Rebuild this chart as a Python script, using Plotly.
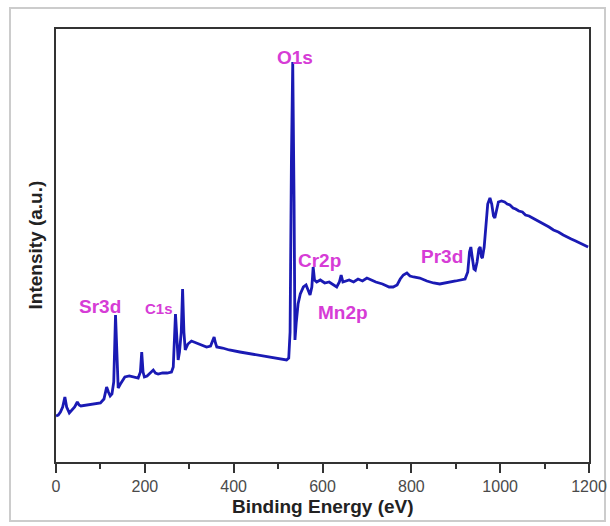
import plotly.graph_objects as go

# XPS survey spectrum: binding energy (eV) and intensity (a.u.)
energy = [0, 5, 10, 15, 20, 24, 30, 36, 42, 48, 52, 56, 70, 85, 100, 108, 114, 118, 122, 126,
          130, 134, 137, 140, 145, 150, 155, 165, 175, 185, 190, 193, 196, 199, 205, 212, 219,
          224, 230, 240, 250, 260, 264, 269, 272, 275, 278, 282, 285, 288, 291, 297, 305, 315,
          325, 339, 348, 353, 356, 359, 362, 375, 390, 414, 440, 465, 489, 505, 519, 524, 527,
          530, 533, 536, 538, 541, 545, 550, 557, 563, 568, 572, 576, 579, 582, 587, 595, 605,
          615, 625, 632, 638, 642, 646, 651, 660, 670, 680, 690, 700, 710, 720, 735, 750, 759,
          768, 775, 782, 790, 797, 805, 819, 835, 850, 864, 880, 900, 921, 927, 931, 934, 937,
          941, 944, 948, 952, 955, 958, 960, 964, 968, 972, 977, 981, 985, 988, 992, 996, 1003,
          1010, 1016, 1022, 1029, 1035, 1042, 1050, 1057, 1065, 1073, 1082, 1090, 1100, 1110,
          1120, 1131, 1142, 1150, 1160, 1170, 1180, 1190, 1198]
intensity = [46, 47, 50, 55, 65, 55, 49, 52, 55, 60, 57, 56, 57, 58, 59, 63, 75, 70, 66, 68,
             80, 147, 100, 74, 78, 82, 85, 86, 85, 84, 90, 110, 90, 85, 86, 89, 92,
             89, 88, 89, 89, 90, 95, 148, 120, 102, 110, 130, 173, 130, 112, 118, 121, 119,
             117, 115, 116, 122, 125, 119, 115, 114, 112, 110, 108, 106, 104, 103, 102, 104, 130,
             300, 400, 260, 122, 140, 158, 168, 175, 177, 171, 167, 175, 195, 182, 180, 182, 179,
             180, 177, 175, 180, 187, 180, 181, 182, 180, 183, 181, 184, 182, 180, 178, 175, 175,
             177, 183, 187, 189, 186, 185, 184, 181, 179, 178, 179, 181, 183, 190, 210, 215, 205,
             193, 192, 200, 213, 215, 205, 204, 215, 240, 258, 264, 258, 246, 244, 252, 260, 261,
             260, 258, 257, 254, 253, 251, 250, 247, 246, 244, 242, 240, 238, 235,
             232, 230, 227, 225, 223, 221, 219, 217, 215]

# Peak assignments: label, energy, intensity position
peak_labels = ["O1s", "Cr2p", "Mn2p", "Pr3d", "Sr3d", "C1s"]
label_energy = [537, 594, 646, 870, 99, 233]
label_intensity = [405, 202, 150, 206, 156, 154]
label_size = [19, 19, 19, 19, 19, 15]

x_ticks = [0, 200, 400, 600, 800, 1000, 1200]

FONT = "Liberation Sans, Arial, sans-serif"

fig = go.Figure()
fig.add_trace(go.Scatter(
    x=energy, y=intensity, mode="lines",
    line=dict(color="#1a1ab4", width=2.8),
    showlegend=False,
))

for txt, ex, iy, sz in zip(peak_labels, label_energy, label_intensity, label_size):
    fig.add_annotation(
        x=ex, y=iy, text=f"<b>{txt}</b>", showarrow=False,
        xanchor="center", yanchor="middle",
        font=dict(family=FONT, size=sz, color="#d63cd6"),
    )

# Axis titles
fig.add_annotation(
    xref="paper", yref="paper", x=0.5, y=0, yshift=-32, yanchor="top",
    text="<b>Binding Energy (eV)</b>", showarrow=False,
    font=dict(family=FONT, size=19, color="#222222"),
)
fig.add_annotation(
    xref="paper", yref="paper", x=0, y=0.5, xshift=-21, xanchor="center",
    text="<b>Intensity (a.u.)</b>", showarrow=False, textangle=-90,
    font=dict(family=FONT, size=19, color="#222222"),
)

# Light outer frame around the figure
fig.add_shape(
    type="rect", xref="paper", yref="paper",
    x0=(10 - 56) / 533, x1=(605 - 56) / 533,
    y0=(462 - 521) / 433, y1=(462 - 8) / 433,
    line=dict(color="#cccccc", width=2), layer="below",
)

fig.update_layout(
    width=610, height=526,
    margin=dict(l=56, r=21, t=29, b=64),
    paper_bgcolor="white", plot_bgcolor="white",
    font=dict(family=FONT),
    xaxis=dict(
        range=[0, 1200], tickvals=x_ticks, ticks="outside", ticklen=9, tickwidth=2,
        tickcolor="#333333", showline=True, linecolor="#333333", linewidth=2, mirror=True,
        showgrid=False, zeroline=False, automargin=False,
        tickfont=dict(size=16, color="#4a4a4a"),
        minor=dict(dtick=100, ticks="outside", ticklen=5, tickwidth=2, tickcolor="#333333"),
    ),
    yaxis=dict(
        range=[0, 433], showticklabels=False, ticks="", showline=True, automargin=False,
        linecolor="#333333", linewidth=2, mirror=True, showgrid=False, zeroline=False,
    ),
)

fig.write_html("out.html")
